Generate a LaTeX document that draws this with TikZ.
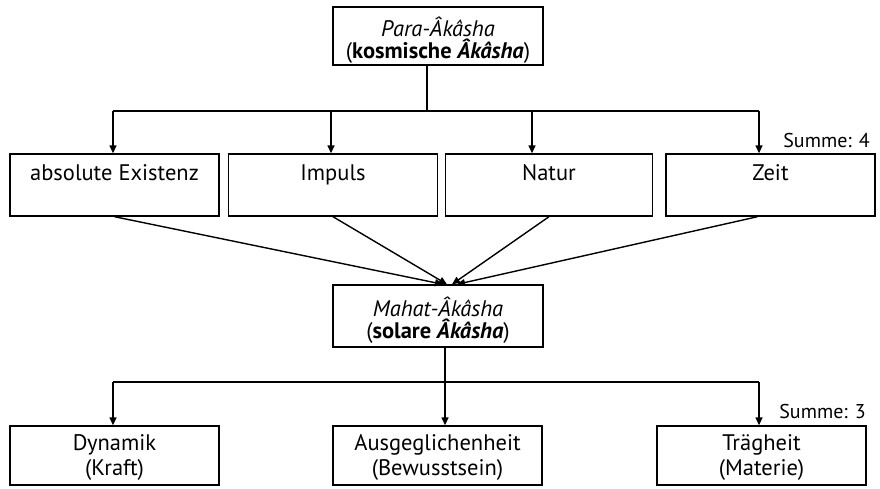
\documentclass[tikz,border=0pt]{standalone}
\usepackage{fontspec}
\setmainfont{PT Sans}
\usetikzlibrary{arrows.meta,calc}
\newcommand\lnstrut{\rule[-4pt]{0pt}{24pt}}
\newcommand\tallstrut{\rule[-4pt]{0pt}{32pt}}
\newcommand\boxfont{\fontsize{22.5}{23.5}\selectfont}
\begin{document}
\begin{tikzpicture}[x=1pt,y=-1pt,
 box/.style={draw, line width=1.4pt, rectangle, inner sep=0pt, align=center, font=\boxfont},
 conn/.style={line width=1.4pt, -{Triangle[length=8pt,width=7pt]}},
 seg/.style={line width=1.4pt},
 lbl/.style={font=\fontsize{20}{22}\selectfont, inner sep=0pt, anchor=base east}]
\useasboundingbox (0,0) rectangle (880,488);
% top
\node[box, minimum width=210, minimum height=58] (para) at (438,36) {\tallstrut\textit{Para-Âkâsha}\\[-2.5pt]\lnstrut(\textbf{kosmische \textit{Âkâsha}})};
% row 2
\node[box, minimum width=209, minimum height=62] (b1) at (114.5,185) {\lnstrut absolute Existenz\\\lnstrut};
\node[box, minimum width=209, minimum height=62] (b2) at (333,185) {\lnstrut Impuls\\\lnstrut};
\node[box, minimum width=207, minimum height=62] (b3) at (549,185) {\lnstrut Natur\\\lnstrut};
\node[box, minimum width=209, minimum height=62] (b4) at (770.5,185) {\lnstrut Zeit\\\lnstrut};
\node[lbl] (s4) at (870,147) {Summe: 4};
% mahat
\node[box, minimum width=210, minimum height=62] (mahat) at (438,316) {\tallstrut\textit{Mahat-Âkâsha}\\[-2.5pt]\lnstrut(\textbf{solare \textit{Âkâsha}})};
% bottom
\node[box, minimum width=209, minimum height=59] (c1) at (114.5,455.5) {\lnstrut Dynamik\\\lnstrut(Kraft)};
\node[box, minimum width=209, minimum height=59] (c2) at (437.5,455.5) {\lnstrut Ausgeglichenheit\\\lnstrut(Bewusstsein)};
\node[box, minimum width=209, minimum height=59] (c3) at (761.5,455.5) {\lnstrut Trägheit\\\lnstrut(Materie)};
\node[lbl] (s3) at (866,418) {Summe: 3};
% top connectors
\coordinate (t) at (427,111);
\coordinate (a1) at (113,111);
\coordinate (a2) at (331,111);
\coordinate (a3) at (532,111);
\coordinate (a4) at (759,111);
\draw[seg] (t |- para.south) -- (t);
\draw[seg] (a1) -- (a4);
\draw[conn] (a1) -- (a1 |- b1.north);
\draw[conn] (a2) -- (a2 |- b2.north);
\draw[conn] (a3) -- (a3 |- b3.north);
\draw[conn] (a4) -- (a4 |- b4.north);
% converging
\draw[conn] (b1.south) -- ($(mahat.north)+(5,0)$);
\draw[conn] (b2.south) -- ($(mahat.north)+(9,0)$);
\draw[conn] (b3.south) -- ($(mahat.north)+(14,0)$);
\draw[conn] ($(b4.south)+(-13,0)$) -- ($(mahat.north)+(19,0)$);
% bottom connectors
\coordinate (m) at (445,382);
\coordinate (d1) at (113,382);
\coordinate (d3) at (759,382);
\draw[seg] (m |- mahat.south) -- (m);
\draw[seg] (d1) -- (d3);
\draw[conn] (d1) -- (d1 |- c1.north);
\draw[conn] (m) -- (m |- c2.north);
\draw[conn] (d3) -- (d3 |- c3.north);
\end{tikzpicture}
\end{document}
